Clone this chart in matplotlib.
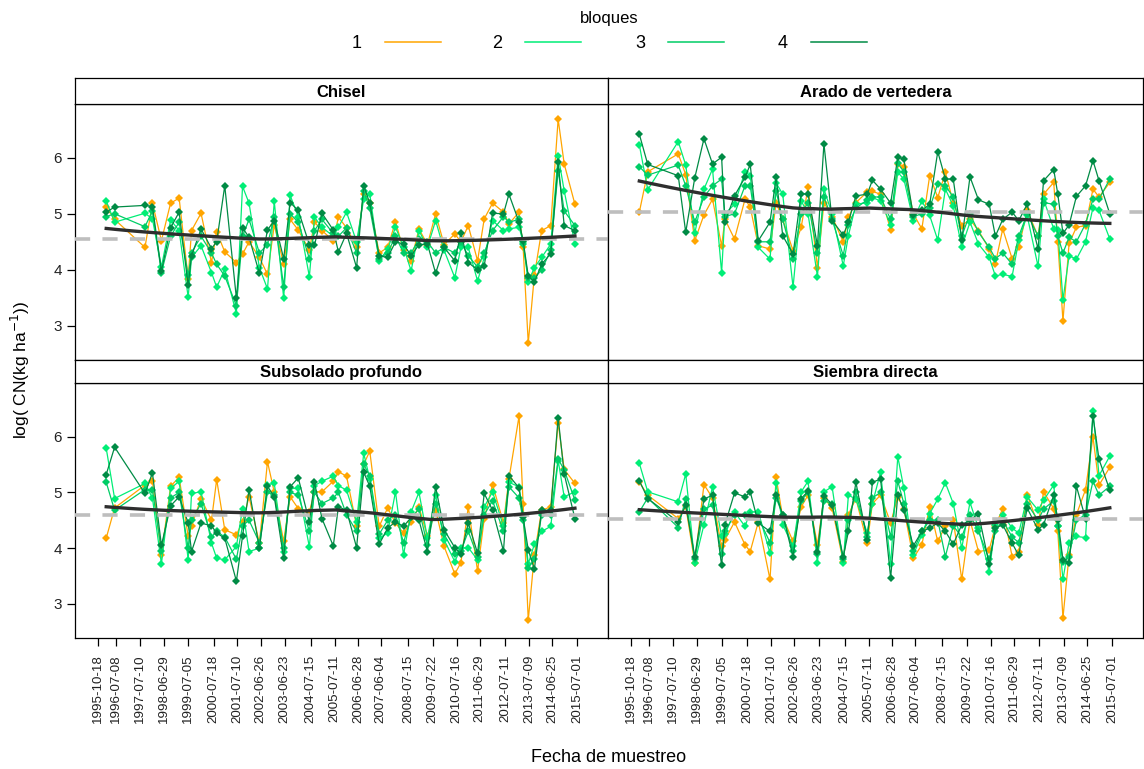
import datetime as dt

import numpy as np
import matplotlib

matplotlib.use("Agg")
import matplotlib.pyplot as plt
from matplotlib.lines import Line2D

plt.rcParams["font.family"] = ["Liberation Sans", "DejaVu Sans"]

W, H = 1144, 769

sample_dates = [
    "1996-02-15", "1996-06-20", "1997-09-20", "1998-01-10", "1998-05-25",
    "1998-10-10", "1999-02-15", "1999-07-01", "1999-08-20", "2000-01-10",
    "2000-06-15", "2000-09-01", "2001-01-01", "2001-06-25", "2001-09-25",
    "2002-01-01", "2002-06-05", "2002-10-05", "2003-01-15", "2003-06-05",
    "2003-09-10", "2004-01-10", "2004-06-25", "2004-09-10", "2005-01-01",
    "2005-06-20", "2005-09-05", "2006-01-05", "2006-06-05", "2006-09-20",
    "2006-12-20", "2007-05-10", "2007-09-15", "2008-01-10", "2008-05-10",
    "2008-09-01", "2008-12-28", "2009-05-05", "2009-09-05", "2010-01-10",
    "2010-06-20", "2010-09-20", "2011-01-08", "2011-05-28", "2011-09-05",
    "2012-01-08", "2012-06-20", "2012-09-10", "2013-02-10", "2013-04-12",
    "2013-06-28", "2013-09-28", "2014-01-15", "2014-06-01", "2014-09-20",
    "2014-12-20", "2015-05-30",
]

tick_dates = [
    "1995-10-18", "1996-07-08", "1997-07-10", "1998-06-29", "1999-07-05",
    "2000-07-18", "2001-07-10", "2002-06-26", "2003-06-23", "2004-07-15",
    "2005-07-11", "2006-06-28", "2007-06-04", "2008-07-15", "2009-07-22",
    "2010-07-16", "2011-06-29", "2012-07-11", "2013-07-09", "2014-06-25",
    "2015-07-01",
]

blocks = ["1", "2", "3", "4"]
block_colors = ["#FFA500", "#00EE76", "#00CD66", "#008B45"]

panel_titles = ["Chisel", "Arado de vertedera", "Subsolado profundo", "Siembra directa"]
ref_levels = [4.55, 5.04, 4.60, 4.53]

# Chisel
chisel_1 = [5.12, 4.90, 4.40, 5.19, 4.52, 5.19, 5.28, 3.84, 4.70, 5.01,
            4.13, 4.68, 4.32, 4.13, 4.28, 4.50, 4.22, 3.92, 4.80, 4.10,
            4.90, 4.71, 4.35, 4.85, 4.70, 4.52, 4.94, 4.75, 4.40, 5.35,
            5.20, 4.30, 4.40, 4.86, 4.35, 4.16, 4.73, 4.45, 5.00, 4.45,
            4.64, 4.50, 4.79, 4.16, 4.91, 5.19, 5.03, 4.82, 5.03, 4.40,
            2.69, 3.90, 4.70, 4.79, 6.69, 5.89, 5.17]
chisel_2 = [5.23, 4.85, 5.01, 4.91, 4.05, 4.89, 4.70, 3.51, 4.22, 4.43,
            3.95, 3.69, 4.01, 3.22, 5.49, 5.19, 4.04, 3.66, 5.22, 3.49,
            5.33, 4.95, 3.88, 4.94, 4.76, 4.60, 4.76, 5.03, 4.50, 5.26,
            5.36, 4.16, 4.37, 4.76, 4.41, 3.98, 4.70, 4.40, 4.88, 4.35,
            3.86, 4.40, 4.40, 3.80, 4.22, 4.88, 4.70, 4.73, 4.76, 4.50,
            3.78, 4.04, 4.22, 4.46, 6.04, 5.41, 4.46]
chisel_3 = [4.95, 5.00, 4.77, 5.05, 3.95, 4.60, 4.85, 3.90, 4.30, 4.60,
            4.30, 4.10, 3.89, 3.36, 4.60, 4.90, 4.30, 4.45, 4.95, 3.70,
            5.00, 4.85, 4.20, 4.70, 4.90, 4.65, 4.60, 4.75, 4.30, 5.40,
            5.10, 4.20, 4.30, 4.60, 4.30, 4.30, 4.55, 4.50, 4.30, 4.40,
            4.30, 4.50, 4.25, 4.05, 4.30, 4.70, 4.95, 4.85, 4.90, 4.46,
            3.85, 3.85, 4.00, 4.35, 5.77, 5.05, 4.79]
chisel_4 = [5.03, 5.12, 5.15, 5.13, 3.98, 4.75, 5.03, 3.72, 4.25, 4.73,
            4.38, 4.50, 5.50, 3.49, 4.75, 4.58, 3.94, 4.71, 4.88, 4.20,
            5.20, 5.06, 4.45, 4.44, 5.01, 4.71, 4.32, 4.65, 4.04, 5.50,
            5.19, 4.25, 4.22, 4.50, 4.46, 4.25, 4.45, 4.46, 3.94, 4.40,
            4.16, 4.65, 4.13, 4.00, 4.07, 5.01, 5.00, 5.35, 4.85, 4.52,
            3.89, 3.78, 4.10, 4.29, 5.92, 4.79, 4.70]

# Arado de vertedera
arado_1 = [5.03, 5.75, 6.07, 5.70, 4.52, 4.98, 5.26, 4.43, 4.90, 4.55,
           5.26, 5.12, 4.43, 4.37, 5.20, 4.90, 4.34, 4.76, 5.47, 4.04,
           5.20, 4.95, 4.50, 4.94, 5.20, 5.39, 5.40, 5.35, 4.71, 5.89,
           5.83, 5.00, 4.73, 5.68, 5.29, 5.74, 5.20, 4.79, 4.90, 4.70,
           4.37, 4.11, 4.73, 4.20, 4.40, 5.06, 4.60, 5.35, 5.56, 4.50,
           3.09, 4.47, 4.76, 4.79, 5.44, 5.30, 5.56]
arado_2 = [6.23, 5.43, 6.29, 5.87, 4.65, 5.44, 5.80, 3.95, 5.00, 5.17,
           5.75, 5.68, 4.40, 4.19, 5.55, 5.35, 3.69, 5.23, 5.00, 3.88,
           5.44, 5.00, 4.07, 4.61, 5.17, 5.20, 5.29, 5.23, 4.80, 5.74,
           5.62, 4.88, 5.23, 4.97, 4.53, 5.44, 5.14, 4.41, 4.85, 4.46,
           4.22, 3.89, 3.92, 3.88, 4.53, 4.97, 4.06, 5.26, 4.73, 4.71,
           3.46, 4.25, 4.19, 4.50, 5.11, 5.06, 4.55]
arado_3 = [5.84, 5.69, 5.87, 5.50, 4.85, 5.30, 5.50, 5.62, 4.95, 5.00,
           5.50, 5.50, 4.50, 4.50, 5.40, 4.90, 4.20, 5.00, 5.20, 4.30,
           5.30, 4.90, 4.25, 4.80, 5.10, 5.25, 5.30, 5.30, 4.90, 5.90,
           5.75, 4.95, 5.00, 5.10, 5.54, 5.50, 5.30, 4.60, 5.00, 4.67,
           4.40, 4.20, 4.30, 4.10, 4.60, 5.00, 4.60, 5.20, 5.17, 4.60,
           4.30, 4.58, 4.50, 4.82, 5.26, 5.26, 5.62]
arado_4 = [6.42, 5.88, 5.68, 4.67, 5.64, 6.34, 5.89, 6.01, 4.85, 5.32,
           5.65, 5.88, 4.52, 4.85, 5.66, 4.61, 4.28, 5.36, 5.35, 4.43,
           6.25, 4.88, 4.62, 4.85, 5.32, 5.35, 5.60, 5.44, 5.19, 6.01,
           5.98, 4.97, 5.06, 5.17, 6.11, 5.62, 5.62, 4.53, 5.66, 5.25,
           5.17, 4.60, 4.90, 5.03, 4.88, 5.17, 4.37, 5.59, 5.79, 5.35,
           4.65, 4.80, 5.31, 5.50, 5.95, 5.59, 5.00]

# Subsolado profundo
subsolado_1 = [4.18, 4.72, 5.13, 5.20, 3.88, 5.11, 5.27, 4.21, 4.40, 4.89,
               4.50, 5.23, 4.33, 4.24, 4.47, 4.92, 4.09, 5.55, 5.00, 4.12,
               4.92, 4.71, 4.65, 5.01, 5.01, 5.20, 5.37, 5.29, 4.40, 5.50,
               5.74, 4.39, 4.72, 4.45, 4.27, 4.47, 4.74, 4.21, 4.69, 4.03,
               3.54, 3.74, 4.74, 3.59, 4.53, 5.14, 4.45, 5.24, 6.37, 4.80,
               2.71, 3.88, 4.68, 4.74, 6.25, 5.41, 5.16]
subsolado_2 = [5.79, 4.89, 5.16, 4.90, 3.72, 5.07, 5.20, 3.79, 4.98, 5.01,
               4.09, 3.82, 3.79, 4.03, 4.71, 3.94, 4.00, 5.14, 5.16, 3.94,
               5.07, 5.07, 4.02, 5.12, 5.20, 5.29, 5.12, 5.04, 4.47, 5.70,
               5.24, 4.18, 4.27, 5.01, 3.88, 4.65, 5.00, 4.18, 4.95, 4.15,
               3.76, 4.00, 4.01, 3.79, 4.74, 5.01, 4.39, 5.18, 5.10, 4.60,
               3.72, 4.07, 4.30, 4.39, 5.57, 4.92, 5.01]
subsolado_3 = [5.18, 4.68, 5.05, 5.05, 3.95, 4.90, 5.00, 4.00, 4.50, 4.80,
               4.20, 4.30, 4.20, 3.80, 4.40, 4.50, 4.10, 5.00, 4.95, 4.00,
               5.00, 4.95, 4.30, 5.00, 4.80, 4.90, 5.00, 4.60, 4.30, 5.50,
               5.30, 4.25, 4.50, 4.60, 4.10, 4.55, 4.70, 4.05, 4.80, 4.25,
               3.90, 3.95, 4.30, 3.85, 4.60, 4.85, 4.30, 5.10, 4.90, 4.50,
               3.65, 3.80, 4.60, 4.60, 5.60, 5.40, 4.86]
subsolado_4 = [5.32, 5.81, 4.98, 5.35, 4.05, 4.76, 4.92, 4.45, 3.94, 4.45,
               4.40, 4.27, 4.18, 3.41, 4.21, 5.05, 4.00, 5.11, 4.92, 3.82,
               5.10, 5.26, 4.47, 5.18, 4.53, 4.04, 4.74, 4.68, 4.01, 5.36,
               5.11, 4.07, 4.36, 4.47, 4.39, 4.55, 4.50, 3.94, 5.10, 4.33,
               4.01, 3.89, 4.45, 3.91, 4.98, 4.68, 3.95, 5.30, 5.08, 4.55,
               3.97, 3.62, 4.68, 4.68, 6.34, 5.33, 4.53]

# Siembra directa
siembra_1 = [5.18, 4.95, 4.53, 4.75, 3.74, 5.14, 4.90, 4.03, 4.15, 4.47,
             4.06, 3.94, 4.47, 3.44, 5.27, 4.55, 4.12, 4.74, 4.95, 4.06,
             4.90, 4.72, 3.76, 4.60, 4.89, 4.09, 4.80, 4.95, 4.45, 4.92,
             4.71, 3.82, 4.06, 4.74, 4.12, 4.40, 4.50, 3.44, 4.50, 3.94,
             3.97, 4.40, 4.71, 3.85, 3.94, 4.96, 4.42, 5.01, 4.71, 4.30,
             2.75, 3.88, 4.60, 5.05, 6.00, 5.13, 5.45]
siembra_2 = [5.52, 5.01, 4.83, 5.33, 3.74, 4.42, 5.10, 4.21, 4.25, 4.65,
             4.39, 4.65, 4.65, 3.91, 5.16, 4.42, 4.03, 5.01, 5.20, 3.74,
             5.01, 5.10, 3.74, 4.95, 4.88, 4.27, 4.80, 5.36, 3.71, 5.64,
             5.07, 3.88, 4.24, 4.62, 4.88, 5.17, 4.80, 4.00, 4.82, 4.36,
             3.58, 4.42, 4.60, 4.36, 4.27, 4.92, 4.68, 4.86, 5.13, 4.40,
             3.44, 4.09, 4.21, 4.19, 6.46, 5.30, 5.65]
siembra_3 = [4.65, 4.90, 4.37, 4.89, 3.80, 4.70, 4.77, 3.90, 4.30, 4.60,
             4.60, 4.60, 4.55, 4.10, 4.90, 4.60, 3.95, 4.85, 5.00, 3.90,
             4.85, 4.80, 3.80, 4.50, 5.00, 4.20, 4.90, 5.00, 4.20, 5.20,
             4.80, 3.95, 4.30, 4.50, 4.50, 3.85, 4.40, 4.20, 4.60, 4.30,
             3.80, 4.30, 4.50, 4.20, 4.10, 4.80, 4.50, 4.70, 4.85, 4.40,
             3.75, 3.85, 4.50, 4.60, 5.20, 4.95, 5.11]
siembra_4 = [5.21, 4.89, 4.47, 4.77, 3.85, 4.88, 4.95, 3.69, 4.42, 4.99,
             4.92, 5.01, 4.45, 4.30, 4.95, 4.60, 3.85, 4.89, 5.02, 3.94,
             4.94, 4.78, 3.84, 4.30, 5.18, 4.15, 5.18, 5.24, 3.47, 4.95,
             4.68, 4.04, 4.30, 4.36, 4.45, 4.30, 4.07, 4.42, 4.50, 4.62,
             3.71, 4.36, 4.42, 4.09, 3.87, 4.72, 4.33, 4.42, 4.95, 4.50,
             3.79, 3.74, 5.11, 4.53, 6.37, 5.59, 5.04]

panel_series = [
    [chisel_1, chisel_2, chisel_3, chisel_4],
    [arado_1, arado_2, arado_3, arado_4],
    [subsolado_1, subsolado_2, subsolado_3, subsolado_4],
    [siembra_1, siembra_2, siembra_3, siembra_4],
]


def _dec_year(s):
    d = dt.date.fromisoformat(s)
    doy = d.timetuple().tm_yday
    return d.year + (doy - 0.5) / 365.25


def _loess(x, y, span=2 / 3, n_eval=50, iterations=4):
    # lattice panel.loess: degree 1, symmetric family
    x = np.asarray(x, float)
    y = np.asarray(y, float)
    n = len(x)
    q = int(np.floor(n * span))
    rw = np.ones(n)

    def fit_at(x0, rw):
        dist = np.abs(x - x0)
        h = np.sort(dist)[q - 1]
        u = np.clip(dist / h, 0, 1)
        w = (1 - u ** 3) ** 3 * rw
        sw = w.sum()
        xm = (w * x).sum() / sw
        ym = (w * y).sum() / sw
        b = (w * (x - xm) * (y - ym)).sum() / (w * (x - xm) ** 2).sum()
        return ym + b * (x0 - xm)

    for _ in range(iterations - 1):
        fitted = np.array([fit_at(xi, rw) for xi in x])
        res = y - fitted
        s = np.median(np.abs(res))
        u = np.clip(res / (6 * s), -1, 1)
        rw = (1 - u ** 2) ** 2
    xe = np.linspace(x.min(), x.max(), n_eval)
    ye = np.array([fit_at(xi, rw) for xi in xe])
    return xe, ye


x_vals = np.array([_dec_year(s) for s in sample_dates])
tick_pos = [_dec_year(s) for s in tick_dates]

fig = plt.figure(figsize=(W / 100, H / 100), dpi=100)


def _fx(px):
    return px / W


def _fy(py):
    return 1 - py / H


panel_boxes = [
    (75, 608, 104, 360),
    (608, 1143, 104, 360),
    (75, 608, 383, 638),
    (608, 1143, 383, 638),
]
strip_boxes = [(78, 104), (78, 104), (360, 383), (360, 383)]

for i, (x0, x1, y0, y1) in enumerate(panel_boxes):
    ax = fig.add_axes([_fx(x0), _fy(y1), (x1 - x0) / W, (y1 - y0) / H])
    for vals, color in zip(panel_series[i], block_colors):
        ax.plot(x_vals, vals, color=color, linewidth=0.9, marker="D",
                markersize=4.4, markeredgewidth=0, zorder=2)
    ax.axhline(ref_levels[i], color="#BEBEBE", linewidth=2.6,
               dashes=(4.2, 3.4), zorder=3)
    all_y = np.concatenate([np.asarray(v, float) for v in panel_series[i]])
    all_x = np.tile(x_vals, 4)
    xs, ys = _loess(all_x, all_y)
    ax.plot(xs, ys, color="#2E2E2E", linewidth=2.4, zorder=4)

    ax.set_xlim(1994.84, 2016.77)
    ax.set_ylim(2.39, 6.96)
    for sp in ax.spines.values():
        sp.set_linewidth(0.9)
    ax.tick_params(direction="out", length=5.8, width=0.9, colors="black")
    if i in (0, 2):
        ax.set_yticks([3, 4, 5, 6])
        ax.set_yticklabels(["3", "4", "5", "6"], fontsize=11, color="#222222")
    else:
        ax.set_yticks([])
    if i in (2, 3):
        ax.set_xticks(tick_pos)
        ax.set_xticklabels(tick_dates, rotation=90, fontsize=9.6, color="#222222")
        ax.tick_params(axis="x", pad=6)
    else:
        ax.set_xticks([])

    s0, s1 = strip_boxes[i]
    sax = fig.add_axes([_fx(x0), _fy(s1), (x1 - x0) / W, (s1 - s0) / H])
    sax.set_xticks([])
    sax.set_yticks([])
    for sp in sax.spines.values():
        sp.set_linewidth(0.9)
    sax.text(0.5, 0.45, panel_titles[i], ha="center", va="center",
             fontsize=12, fontweight="bold", transform=sax.transAxes)

# legend on top
fig.text(_fx(609), _fy(18), "bloques", ha="center", va="center", fontsize=12)
leg_x = [357, 497, 640, 783]
for lx, lab, color in zip(leg_x, blocks, block_colors):
    fig.text(_fx(lx), _fy(43), lab, ha="center", va="center", fontsize=13)
    fig.add_artist(Line2D([_fx(lx + 28), _fx(lx + 84)], [_fy(42), _fy(42)],
                          color=color, linewidth=1.1, transform=fig.transFigure))

fig.text(_fx(609), _fy(757), "Fecha de muestreo", ha="center", va="center",
         fontsize=13)
fig.text(_fx(20), _fy(370), "log( CN(kg ha$^{-1}$))", ha="center", va="center",
         rotation=90, fontsize=12.5)

fig.savefig("out.png", dpi=100)
